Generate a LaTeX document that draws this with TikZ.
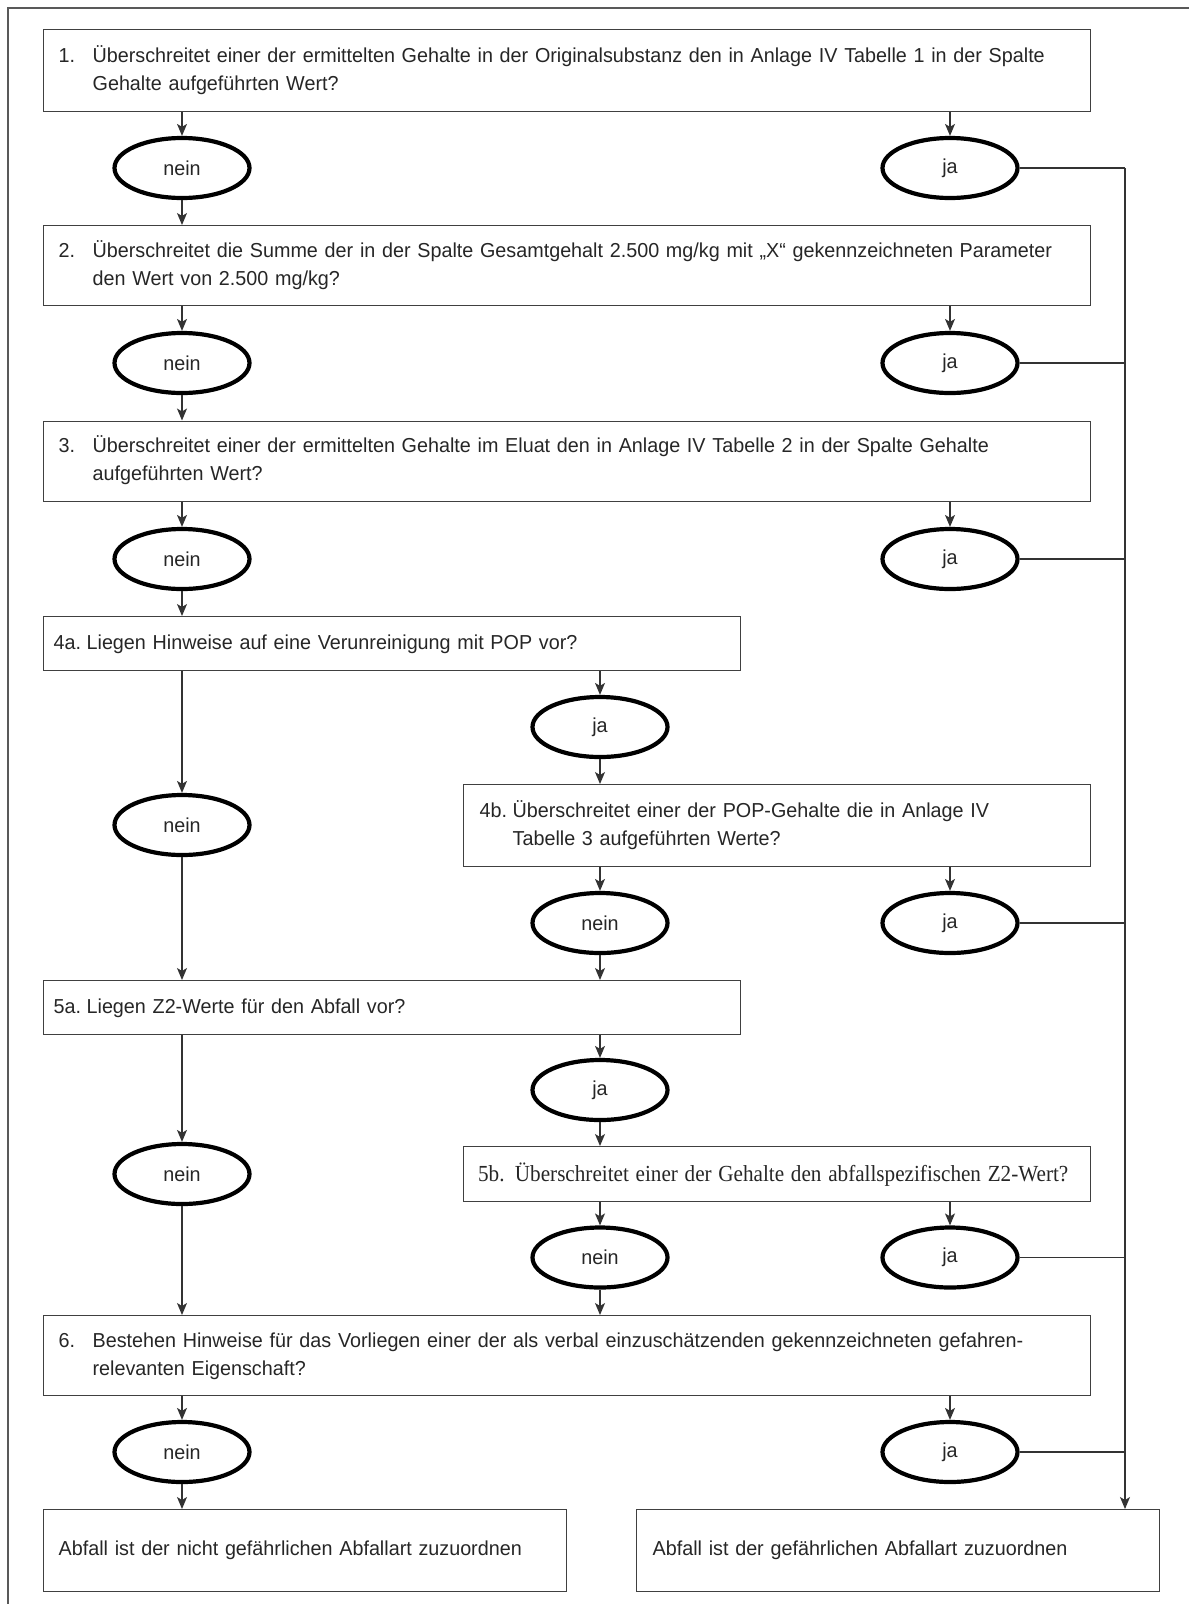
\documentclass[tikz,border=0pt]{standalone}
\usepackage{fontspec}
\setmainfont{Liberation Sans}[FakeStretch=0.978]
\newfontfamily\serifface{Liberation Serif}[FakeStretch=0.92]
\usetikzlibrary{shapes.geometric,arrows.meta}
\begin{document}
\begin{tikzpicture}[x=1pt,y=-1pt,
  txt/.style={font=\fontsize{20.2}{28}\selectfont, text=black!85},
  qbox/.style={txt, draw=black!75, line width=1.3pt, rectangle, anchor=north west, inner ysep=0pt, align=left},
  ell/.style={txt, ellipse, draw=black, line width=4.2pt, minimum width=135pt, minimum height=60pt, inner sep=0pt},
  conn/.style={draw=black!80, line width=1.2pt},
  arr/.style={conn, -{Stealth[length=12pt,width=10pt,inset=3pt]}},
  frame/.style={draw=black!65, line width=1.4pt}]
\useasboundingbox (0,0) rectangle (1189,1604);
\draw[frame] (8,1604) -- (8,8) -- (1189,8);

% question boxes
\node[qbox, inner xsep=15pt, text width=1017pt, minimum height=82pt] (b1) at (43,29)
  {\begin{tabular}{@{}p{34pt}@{}l@{}}1.&Überschreitet einer der ermittelten Gehalte in der Originalsubstanz den in Anlage IV Tabelle 1 in der Spalte\\&Gehalte aufgeführten Wert?\end{tabular}};
\node[qbox, inner xsep=15pt, text width=1017pt, minimum height=80pt] (b2) at (43,225)
  {\begin{tabular}{@{}p{34pt}@{}l@{}}2.&Überschreitet die Summe der in der Spalte Gesamtgehalt 2.500 mg/kg mit „X“ gekennzeichneten Parameter\\&den Wert von 2.500 mg/kg?\end{tabular}};
\node[qbox, inner xsep=15pt, text width=1017pt, minimum height=80pt] (b3) at (43,420.5)
  {\begin{tabular}{@{}p{34pt}@{}l@{}}3.&Überschreitet einer der ermittelten Gehalte im Eluat den in Anlage IV Tabelle 2 in der Spalte Gehalte\\&aufgeführten Wert?\end{tabular}};
\node[qbox, inner xsep=10pt, text width=677pt, minimum height=54pt] (b4a) at (43,616)
  {\begin{tabular}{@{}p{33pt}@{}l@{}}4a.&Liegen Hinweise auf eine Verunreinigung mit POP vor?\end{tabular}};
\node[qbox, inner xsep=16.5pt, text width=594.5pt, minimum height=82pt] (b4b) at (462.5,784)
  {\begin{tabular}{@{}p{33pt}@{}l@{}}4b.&Überschreitet einer der POP-Gehalte die in Anlage IV\\&Tabelle 3 aufgeführten Werte?\end{tabular}};
\node[qbox, inner xsep=10pt, text width=677pt, minimum height=54pt] (b5a) at (43,980)
  {\begin{tabular}{@{}p{33pt}@{}l@{}}5a.&Liegen Z2-Werte für den Abfall vor?\end{tabular}};
\node[qbox, inner xsep=15pt, text width=597.5pt, minimum height=55pt] (b5b) at (462.5,1146)
  {\serifface\fontsize{23}{28}\selectfont 5b.\hspace{0.45em}Überschreitet einer der Gehalte den abfallspezifischen Z2-Wert?};
\node[qbox, inner xsep=15pt, text width=1017pt, minimum height=80pt] (b6) at (43,1315)
  {\begin{tabular}{@{}p{34pt}@{}l@{}}6.&Bestehen Hinweise für das Vorliegen einer der als verbal einzuschätzenden gekennzeichneten gefahren-\\&relevanten Eigenschaft?\end{tabular}};
\node[qbox, inner xsep=15pt, text width=493pt, minimum height=82pt] (f1) at (43,1509)
  {Abfall ist der nicht gefährlichen Abfallart zuzuordnen};
\node[qbox, inner xsep=16pt, text width=491pt, minimum height=82pt] (f2) at (636,1509)
  {Abfall ist der gefährlichen Abfallart zuzuordnen};

% decision ellipses
\node[ell] (n1) at (182,168) {nein};
\node[ell] (j1) at (950,168) {ja};
\node[ell] (n2) at (182,363) {nein};
\node[ell] (j2) at (950,363) {ja};
\node[ell] (n3) at (182,559) {nein};
\node[ell] (j3) at (950,559) {ja};
\node[ell] (j4a) at (600,727) {ja};
\node[ell] (n4) at (182,825) {nein};
\node[ell] (n4b) at (600,923) {nein};
\node[ell] (j4b) at (950,923) {ja};
\node[ell] (j5a) at (600,1090) {ja};
\node[ell] (n5) at (182,1174) {nein};
\node[ell] (n5b) at (600,1257.5) {nein};
\node[ell] (j5b) at (950,1257.5) {ja};
\node[ell] (n6) at (182,1452) {nein};
\node[ell] (j6) at (950,1452) {ja};

% connectors
\draw[arr] (n1 |- b1.south) -- (n1.north);
\draw[arr] (j1 |- b1.south) -- (j1.north);
\draw[arr] (n1.south) -- (n1 |- b2.north);
\draw[arr] (n2 |- b2.south) -- (n2.north);
\draw[arr] (j2 |- b2.south) -- (j2.north);
\draw[arr] (n2.south) -- (n2 |- b3.north);
\draw[arr] (n3 |- b3.south) -- (n3.north);
\draw[arr] (j3 |- b3.south) -- (j3.north);
\draw[arr] (n3.south) -- (n3 |- b4a.north);
\draw[arr] (n4 |- b4a.south) -- (n4.north);
\draw[arr] (j4a |- b4a.south) -- (j4a.north);
\draw[arr] (j4a.south) -- (j4a |- b4b.north);
\draw[arr] (n4b |- b4b.south) -- (n4b.north);
\draw[arr] (j4b |- b4b.south) -- (j4b.north);
\draw[arr] (n4.south) -- (n4 |- b5a.north);
\draw[arr] (n4b.south) -- (n4b |- b5a.north);
\draw[arr] (n5 |- b5a.south) -- (n5.north);
\draw[arr] (j5a |- b5a.south) -- (j5a.north);
\draw[arr] (j5a.south) -- (j5a |- b5b.north);
\draw[arr] (n5b |- b5b.south) -- (n5b.north);
\draw[arr] (j5b |- b5b.south) -- (j5b.north);
\draw[arr] (n5.south) -- (n5 |- b6.north);
\draw[arr] (n5b.south) -- (n5b |- b6.north);
\draw[arr] (n6 |- b6.south) -- (n6.north);
\draw[arr] (j6 |- b6.south) -- (j6.north);
\draw[arr] (n6.south) -- (n6 |- f1.north);

% collecting line on the right
\coordinate (vt) at (1125,168);
\draw[conn] (j1.east) -- (vt);
\draw[arr] (vt) -- (vt |- f2.north);
\draw[conn] (j2.east) -- (vt |- j2);
\draw[conn] (j3.east) -- (vt |- j3);
\draw[conn] (j4b.east) -- (vt |- j4b);
\draw[conn] (j5b.east) -- (vt |- j5b);
\draw[conn] (j6.east) -- (vt |- j6);
\end{tikzpicture}
\end{document}
